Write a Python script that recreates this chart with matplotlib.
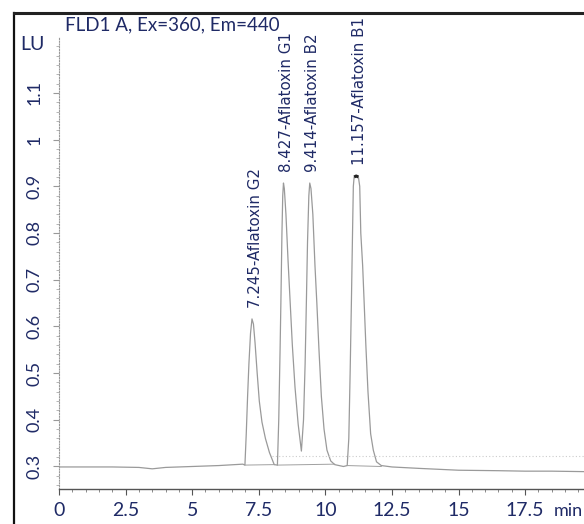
import matplotlib.pyplot as plt
from matplotlib.lines import Line2D
from matplotlib.ticker import MultipleLocator

# chromatogram trace (min, LU)
time = [0, 1, 2, 3, 3.5, 4, 5, 6, 6.9,
        6.98, 7.03, 7.08, 7.13, 7.19, 7.245, 7.30, 7.36, 7.44, 7.52, 7.62, 7.75, 7.90, 8.08,
        8.20, 8.25, 8.30, 8.33, 8.37, 8.40, 8.427, 8.46, 8.52, 8.60, 8.68, 8.76, 8.86, 8.98, 9.10,
        9.18, 9.24, 9.29, 9.33, 9.38, 9.414, 9.46, 9.53, 9.61, 9.68, 9.76, 9.85, 9.95, 10.06, 10.20, 10.35,
        10.68, 10.82, 10.88, 10.93, 10.98, 11.02, 11.05, 11.08, 11.157, 11.24, 11.29, 11.33, 11.40,
        11.45, 11.52, 11.60, 11.70, 11.80, 11.92, 12.1,
        12.5, 13.5, 15, 16.5, 17.5, 18.5, 19.7]
signal = [0.299, 0.299, 0.299, 0.298, 0.295, 0.298, 0.300, 0.302, 0.305,
          0.303, 0.37, 0.45, 0.52, 0.585, 0.616, 0.605, 0.565, 0.50, 0.44, 0.395, 0.36, 0.33, 0.304,
          0.303, 0.40, 0.55, 0.65, 0.80, 0.88, 0.907, 0.895, 0.84, 0.74, 0.65, 0.56, 0.47, 0.39, 0.333,
          0.40, 0.52, 0.66, 0.78, 0.88, 0.907, 0.895, 0.84, 0.73, 0.65, 0.55, 0.45, 0.38, 0.335, 0.312, 0.304,
          0.300, 0.302, 0.36, 0.50, 0.66, 0.80, 0.90, 0.92, 0.922, 0.92, 0.90, 0.80, 0.73,
          0.66, 0.56, 0.46, 0.37, 0.335, 0.31, 0.302,
          0.299, 0.296, 0.292, 0.291, 0.290, 0.290, 0.289]

# peaks
peak_rt = [7.245, 8.427, 9.414, 11.157]
peak_names = ["7.245-Aflatoxin G2", "8.427-Aflatoxin G1", "9.414-Aflatoxin B2", "11.157-Aflatoxin B1"]
peak_top = [0.616, 0.907, 0.907, 0.922]

# integration baselines (start t, start LU, end t, end LU)
base_t0 = [6.98, 8.20, 10.82]
base_y0 = [0.303, 0.303, 0.302]
base_t1 = [8.08, 10.35, 12.1]
base_y1 = [0.304, 0.305, 0.300]

txt_col = "#1f2a66"

fig = plt.figure(figsize=(5.84, 5.24), dpi=100)
ax = fig.add_axes([59 / 584, 1 - 489 / 524, 1 - 59 / 584, (489 - 37) / 524])

ax.plot(time, signal, color="#9a9a9a", lw=0.9)
for a, b, c, d in zip(base_t0, base_y0, base_t1, base_y1):
    ax.plot([a, c], [b, d], color="#a0a0a0", lw=0.7)

# saturated top of B1 drawn darker
top_t = [t for t, s in zip(time, signal) if s >= 0.915]
top_s = [s for s in signal if s >= 0.915]
ax.plot(top_t, top_s, color="#222222", lw=2.2, solid_capstyle="butt")

# faint dotted reference line
ax.hlines(0.322, 8.0, 19.7, colors="#cccccc", linestyles=(0, (1, 2)), lw=0.8)

for rt, name, h in zip(peak_rt, peak_names, peak_top):
    ax.text(rt + 0.12, h + 0.024, name, rotation=90, ha="center", va="bottom",
            fontsize=10.8, color=txt_col, family="DejaVu Sans")

ax.set_xlim(0, 19.71)
ax.set_ylim(0.2518, 1.2197)

ax.xaxis.set_minor_locator(MultipleLocator(0.5))
ax.yaxis.set_minor_locator(MultipleLocator(0.02))
ax.set_xticks([0, 2.5, 5, 7.5, 10, 12.5, 15, 17.5])
ax.set_xticklabels(["0", "2.5", "5", "7.5", "10", "12.5", "15", "17.5"])
ax.set_yticks([0.3, 0.4, 0.5, 0.6, 0.7, 0.8, 0.9, 1.0, 1.1])
ax.set_yticklabels(["0.3", "0.4", "0.5", "0.6", "0.7", "0.8", "0.9", "1", "1.1"])

for s in ["top", "right"]:
    ax.spines[s].set_visible(False)
ax.spines["bottom"].set_color("#555555")
ax.spines["bottom"].set_linewidth(1.0)
ax.spines["left"].set_color("#999999")
ax.spines["left"].set_linestyle((0, (1, 1.5)))
ax.spines["left"].set_linewidth(0.8)

ax.tick_params(axis="x", which="major", length=4, width=0.8, color="#555555", pad=5,
               labelsize=14, labelcolor=txt_col)
ax.tick_params(axis="x", which="minor", length=2.5, width=0.6, color="#777777")
ax.tick_params(axis="y", which="major", length=4, width=0.8, color="#999999", pad=8,
               labelsize=13, labelcolor=txt_col, labelrotation=90)
ax.tick_params(axis="y", which="minor", length=2.5, width=0.6, color="#aaaaaa")
for lab in ax.get_xticklabels() + ax.get_yticklabels():
    lab.set_family("Lato")
for lab in ax.get_yticklabels():
    lab.set_va("center")

fig.text(20 / 584, 1 - 45 / 524, "LU", fontsize=14, color=txt_col, family="Lato",
         ha="left", va="center")
fig.text(65 / 584, 1 - 25 / 524, "FLD1 A, Ex=360, Em=440", fontsize=13.5, color=txt_col,
         family="Lato", ha="left", va="center")
fig.text(554 / 584, 1 - 511 / 524, "min", fontsize=13, color=txt_col, family="Lato",
         ha="left", va="center")

# outer frame
fig.add_artist(Line2D([14 / 584, 14 / 584], [-0.1, 1 - 13 / 524], color="#111111", lw=1.6))
fig.add_artist(Line2D([14 / 584, 1.1], [1 - 13 / 524, 1 - 13 / 524], color="#222222", lw=2.2))

fig.savefig("out.png", dpi=100)
